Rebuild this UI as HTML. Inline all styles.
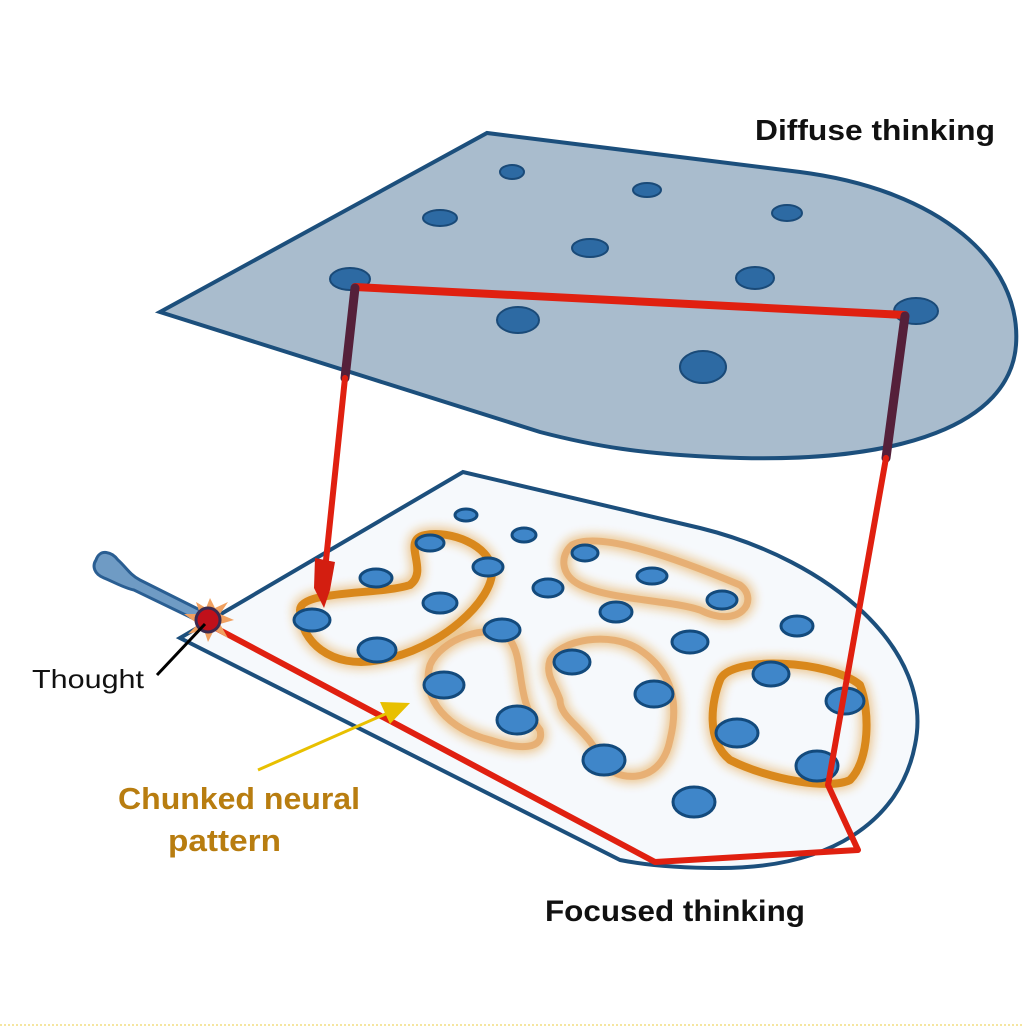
<!DOCTYPE html>
<html><head><meta charset="utf-8"><style>
html,body{margin:0;padding:0;background:#fff;}
svg{display:block;}
text{font-family:"Liberation Sans","DejaVu Sans",sans-serif;}
</style></head><body>
<svg width="1023" height="1027" viewBox="0 0 1023 1027" xmlns="http://www.w3.org/2000/svg">
<defs>
<filter id="blur" x="-20%" y="-20%" width="140%" height="140%"><feGaussianBlur stdDeviation="5"/></filter>
</defs>
<!-- top plane -->
<path d="M160,312 L487,133 L800,172 C940,190 1022,262 1016,345 C1010,425 900,462 740,458 C640,455 590,445 540,432 Z" fill="#a9bccd" stroke="#1c4f7c" stroke-width="4"/>
<g fill="#2d6aa3" stroke="#1a4a78" stroke-width="2">
<ellipse cx="512" cy="172" rx="12" ry="7"/>
<ellipse cx="647" cy="190" rx="14" ry="7"/>
<ellipse cx="787" cy="213" rx="15" ry="8"/>
<ellipse cx="440" cy="218" rx="17" ry="8"/>
<ellipse cx="590" cy="248" rx="18" ry="9"/>
<ellipse cx="755" cy="278" rx="19" ry="11"/>
<ellipse cx="350" cy="279" rx="20" ry="11"/>
<ellipse cx="518" cy="320" rx="21" ry="13"/>
<ellipse cx="916" cy="311" rx="22" ry="13"/>
<ellipse cx="703" cy="367" rx="23" ry="16"/>
</g>
<text x="755" y="140" font-size="29" font-weight="bold" fill="#111" textLength="240" lengthAdjust="spacingAndGlyphs">Diffuse thinking</text>
<!-- bottom plane -->
<path d="M180,638 L463,472 L700,528 C830,560 935,650 915,745 C900,822 830,868 720,868 C670,868 640,864 620,860 Z" fill="#f6f9fc" stroke="#1c4f7c" stroke-width="4"/>
<!-- orange blobs -->
<g fill="none" stroke-linejoin="round">
<g stroke="#e08c17" stroke-width="14" opacity="0.45" filter="url(#blur)">
<path d="M300,610 C300,590 380,595 410,585 C430,570 400,540 425,535 C450,530 490,545 492,570 C494,600 440,650 380,660 C330,670 300,640 300,610Z"/>
<path d="M572,545 C600,530 680,560 740,585 C760,600 740,630 700,610 C670,600 610,600 580,585 C560,575 560,555 572,545Z"/>
<path d="M430,665 C440,640 490,620 510,640 C525,660 515,700 540,730 C545,750 520,750 490,740 C450,730 420,700 430,665Z"/>
<path d="M550,660 C560,640 610,630 640,650 C670,670 680,700 670,740 C660,790 610,780 600,760 C590,730 560,720 560,700 C555,685 545,675 550,660Z"/>
<path d="M720,680 C730,655 830,660 860,685 C870,710 870,760 850,780 C830,790 770,780 730,760 C705,740 712,700 720,680Z"/>
</g>
<g stroke="#d9881c" stroke-width="8">
<path d="M300,610 C300,590 380,595 410,585 C430,570 400,540 425,535 C450,530 490,545 492,570 C494,600 440,650 380,660 C330,670 300,640 300,610Z"/>
<path d="M720,680 C730,655 830,660 860,685 C870,710 870,760 850,780 C830,790 770,780 730,760 C705,740 712,700 720,680Z"/>
</g>
<g stroke="#e6a868" stroke-width="7" opacity="0.8">
<path d="M572,545 C600,530 680,560 740,585 C760,600 740,630 700,610 C670,600 610,600 580,585 C560,575 560,555 572,545Z"/>
<path d="M430,665 C440,640 490,620 510,640 C525,660 515,700 540,730 C545,750 520,750 490,740 C450,730 420,700 430,665Z"/>
<path d="M550,660 C560,640 610,630 640,650 C670,670 680,700 670,740 C660,790 610,780 600,760 C590,730 560,720 560,700 C555,685 545,675 550,660Z"/>
</g>
</g>
<g fill="#3f86c9" stroke="#134a7c" stroke-width="3">
<ellipse cx="466" cy="515" rx="11" ry="6"/>
<ellipse cx="524" cy="535" rx="12" ry="7"/>
<ellipse cx="585" cy="553" rx="13" ry="8"/>
<ellipse cx="430" cy="543" rx="14" ry="8"/>
<ellipse cx="488" cy="567" rx="15" ry="9"/>
<ellipse cx="652" cy="576" rx="15" ry="8"/>
<ellipse cx="376" cy="578" rx="16" ry="9"/>
<ellipse cx="548" cy="588" rx="15" ry="9"/>
<ellipse cx="722" cy="600" rx="15" ry="9"/>
<ellipse cx="440" cy="603" rx="17" ry="10"/>
<ellipse cx="616" cy="612" rx="16" ry="10"/>
<ellipse cx="797" cy="626" rx="16" ry="10"/>
<ellipse cx="312" cy="620" rx="18" ry="11"/>
<ellipse cx="502" cy="630" rx="18" ry="11"/>
<ellipse cx="690" cy="642" rx="18" ry="11"/>
<ellipse cx="377" cy="650" rx="19" ry="12"/>
<ellipse cx="572" cy="662" rx="18" ry="12"/>
<ellipse cx="771" cy="674" rx="18" ry="12"/>
<ellipse cx="444" cy="685" rx="20" ry="13"/>
<ellipse cx="654" cy="694" rx="19" ry="13"/>
<ellipse cx="845" cy="701" rx="19" ry="13"/>
<ellipse cx="517" cy="720" rx="20" ry="14"/>
<ellipse cx="737" cy="733" rx="21" ry="14"/>
<ellipse cx="604" cy="760" rx="21" ry="15"/>
<ellipse cx="817" cy="766" rx="21" ry="15"/>
<ellipse cx="694" cy="802" rx="21" ry="15"/>
</g>
<!-- red connectors -->
<g stroke-linecap="round" stroke-linejoin="round" fill="none">
<path d="M355,287 L905,315" stroke="#e02010" stroke-width="8"/>
<path d="M355,288 L345,378" stroke="#55203a" stroke-width="9"/>
<path d="M345,378 L325,570" stroke="#e02010" stroke-width="6"/>
<path d="M905,316 L886,458" stroke="#55203a" stroke-width="9"/>
<path d="M886,458 L828,785 L858,850 L655,862 L212,626" stroke="#e02010" stroke-width="6"/>
</g>
<path d="M315,558 L335,562 L330,590 L324,608 L314,588 Z" fill="#d31e10"/>
<!-- pen / thought -->
<path d="M96,560 C100,548 112,552 118,560 C125,566 130,575 140,580 L200,610 L196,620 L134,590 C124,588 114,582 104,578 C94,574 92,566 96,560Z" fill="#6f9bc4" stroke="#2a5e92" stroke-width="3"/>
<polygon points="210,598 215,608 228,602 220,614 234,620 220,624 228,638 214,630 208,642 204,630 188,634 198,624 184,614 200,614 196,602 206,608" fill="#f0a060"/>
<circle cx="208" cy="620" r="12" fill="#c0101a" stroke="#3a2a50" stroke-width="3"/>
<line x1="205" y1="624" x2="157" y2="675" stroke="#000" stroke-width="3"/>
<text x="32" y="688" font-size="26" fill="#111" textLength="112" lengthAdjust="spacingAndGlyphs">Thought</text>
<!-- yellow arrow -->
<line x1="258" y1="770" x2="390" y2="712" stroke="#e8c000" stroke-width="3"/>
<polygon points="410,703 380,702 390,724" fill="#e8c000"/>
<text x="118" y="809" font-size="31" font-weight="bold" fill="#b87d10" textLength="242" lengthAdjust="spacingAndGlyphs">Chunked neural</text>
<text x="168" y="851" font-size="31" font-weight="bold" fill="#b87d10" textLength="113" lengthAdjust="spacingAndGlyphs">pattern</text>
<text x="545" y="921" font-size="30" font-weight="bold" fill="#111" textLength="260" lengthAdjust="spacingAndGlyphs">Focused thinking</text>
<line x1="0" y1="1025" x2="1023" y2="1025" stroke="#f5e6a0" stroke-width="2" stroke-dasharray="2,2"/>
</svg>
</body></html>
